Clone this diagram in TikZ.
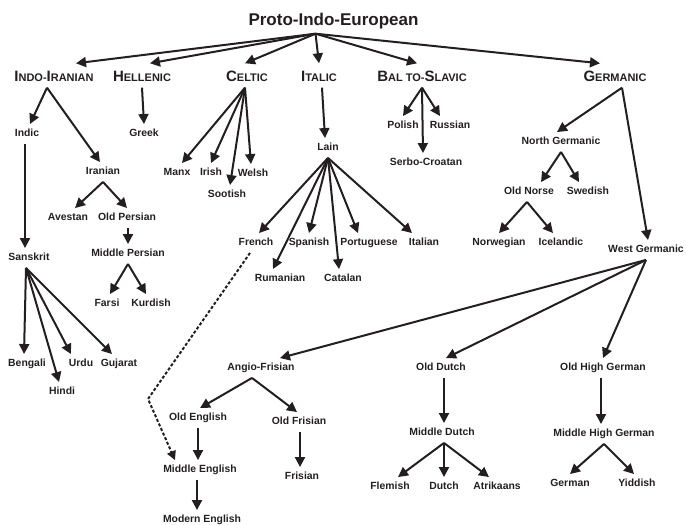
\documentclass[tikz,border=0pt]{standalone}
\usepackage{fontspec}
\setmainfont{Liberation Sans}
\usetikzlibrary{arrows.meta}
\definecolor{ink}{HTML}{231F20}
% maiuscola grande nei titoli dei rami
\newcommand\hcap[1]{{\fontsize{15}{15}\selectfont #1}}
\tikzset{
  % nome di una lingua
  lang/.style={text=ink, font=\bfseries\fontsize{10.4}{12}\selectfont, text height=7.5pt,
    text depth=2pt, inner xsep=1pt, inner ysep=5pt},
  % ramo principale (maiuscoletto)
  branch/.style={text=ink, font=\bfseries\fontsize{11}{11}\selectfont, text height=11pt,
    text depth=0pt, inner xsep=1pt, inner ysep=6.5pt},
  % radice
  rootlbl/.style={text=ink, font=\bfseries\fontsize{17}{20}\selectfont, text height=12.5pt,
    text depth=3.5pt, inner ysep=5pt},
  % frecce di discendenza
  arr/.style={draw=ink, line width=2pt, -{Triangle[length=10pt, width=10pt]}},
  loanarr/.style={arr, dash pattern=on 3pt off 2pt, -{Triangle[length=9pt, width=9pt]}},
}
\begin{document}
\begin{tikzpicture}[x=1pt, y=-1pt]
  \useasboundingbox (0,0) rectangle (686,525);
  % radice e rami
  \node[rootlbl] (pie) at (333.5,20.5) {Proto-Indo-European};
  \coordinate (top) at ([xshift=-18]pie.south);
  \node[branch] (indo) at (54,75.5) {\hcap{I}NDO-\hcap{I}RANIAN};
  \node[branch] (hell) at (142,75.5) {\hcap{H}ELLENIC};
  \node[branch] (celt) at (247,75.5) {\hcap{C}ELTIC};
  \node[branch] (ital) at (319,75.5) {\hcap{I}TALIC};
  \node[branch] (balt) at (422,75.5) {\hcap{B}AL TO-\hcap{S}LAVIC};
  \node[branch] (germ) at (615,75.5) {\hcap{G}ERMANIC};
  \foreach \c/\dx in {indo/22, hell/8, celt/-2, ital/0, balt/-5, germ/-15}
    \draw[arr] (top) -- ([xshift=\dx]\c.north);
  % indo-iranico
  \node[lang] (indic) at (27,134) {Indic};
  \node[lang] (iran) at (103,172) {Iranian};
  \node[lang] (avest) at (68,218) {Avestan};
  \node[lang] (opers) at (127,218) {Old Persian};
  \node[lang] (mpers) at (128,254) {Middle Persian};
  \node[lang] (farsi) at (107,304) {Farsi};
  \node[lang] (kurd) at (151,304) {Kurdish};
  \node[lang] (sansk) at (29,258) {Sanskrit};
  \node[lang] (beng) at (27,364) {Bengali};
  \node[lang] (hindi) at (62,392) {Hindi};
  \node[lang] (urdu) at (81,364) {Urdu};
  \node[lang] (guj) at (119,364) {Gujarat};
  \foreach \c/\dx in {indic/3, iran/-3} \draw[arr] ([xshift=-7]indo.south) -- ([xshift=\dx]\c.north);
  \draw[arr] ([xshift=-2]indic.south) -- ([xshift=-4]sansk.north);
  \foreach \c/\dx in {beng/-3, hindi/-3, urdu/-10, guj/-7} \draw[arr] ([xshift=-3]sansk.south) -- ([xshift=\dx]\c.north);
  \foreach \c/\dx in {avest/7, opers/0} \draw[arr] (iran.south) -- ([xshift=\dx]\c.north);
  \draw[arr] ([xshift=1]opers.south) -- (mpers.north);
  \foreach \c/\dx in {farsi/3, kurd/-5} \draw[arr] (mpers.south) -- ([xshift=\dx]\c.north);
  % ellenico
  \node[lang] (greek) at (144,134) {Greek};
  \draw[arr] (hell.south) -- (greek.north);
  % celtico
  \node[lang] (manx) at (177,173) {Manx};
  \node[lang] (irish) at (211,173) {Irish};
  \node[lang] (welsh) at (253,174) {Welsh};
  \node[lang] (scot) at (227,195) {Sootish};
  \foreach \c/\dx in {manx/5, irish/0, scot/3, welsh/-2} \draw[arr] ([xshift=-2]celt.south) -- ([xshift=\dx]\c.north);
  % italico
  \node[lang] (lain) at (328,148) {Lain};
  \node[lang] (french) at (256,243) {French};
  \node[lang] (span) at (309,243) {Spanish};
  \node[lang] (port) at (369,243) {Portuguese};
  \node[lang] (itan) at (424,243) {Italian};
  \node[lang] (rum) at (280,279) {Rumanian};
  \node[lang] (cat) at (343,279) {Catalan};
  \draw[arr] ([xshift=3]ital.south) -- ([xshift=-3]lain.north);
  \foreach \c/\dx in {french/3, rum/-7, span/0, cat/-4, port/-11, itan/-12} \draw[arr] (lain.south) -- ([xshift=\dx]\c.north);
  % balto-slavo
  \node[lang] (polish) at (403,126) {Polish};
  \node[lang] (russ) at (450,126) {Russian};
  \node[lang] (serbo) at (426,163) {Serbo-Croatan};
  \foreach \c/\dx in {polish/0, russ/-10, serbo/-3} \draw[arr] (balt.south) -- ([xshift=\dx]\c.north);
  % germanico
  \node[lang] (ngerm) at (561,142) {North Germanic};
  \node[lang] (onorse) at (529,192) {Old Norse};
  \node[lang] (swed) at (588,192) {Swedish};
  \node[lang] (norw) at (499,243) {Norwegian};
  \node[lang] (icel) at (561,243) {Icelandic};
  \node[lang] (wgerm) at (646,250) {West Germanic};
  \foreach \c/\dx in {ngerm/-4, wgerm/2} \draw[arr] ([xshift=7]germ.south) -- ([xshift=\dx]\c.north);
  \foreach \c/\dx in {onorse/12, swed/-9} \draw[arr] (ngerm.south) -- ([xshift=\dx]\c.north);
  \foreach \c/\dx in {norw/0, icel/-8} \draw[arr] ([xshift=-2]onorse.south) -- ([xshift=\dx]\c.north);
  % germanico occidentale
  \node[lang] (anglo) at (261,368) {Angio-Frisian};
  \node[lang] (oeng) at (198,418) {Old English};
  \node[lang] (ofris) at (299,422) {Old Frisian};
  \node[lang] (meng) at (200,470) {Middle English};
  \node[lang] (fris) at (302,477) {Frisian};
  \node[lang] (moden) at (202,520) {Modern English};
  \node[lang] (odutch) at (441,368) {Old Dutch};
  \node[lang] (mdutch) at (442,433) {Middle Dutch};
  \node[lang] (flem) at (390,487) {Flemish};
  \node[lang] (dutch) at (444,487) {Dutch};
  \node[lang] (afr) at (497,487) {Atrikaans};
  \node[lang] (ohg) at (603,368) {Old High German};
  \node[lang] (mhg) at (604,434) {Middle High German};
  \node[lang] (german) at (570,484) {German};
  \node[lang] (yidd) at (637,484) {Yiddish};
  \foreach \c/\dx in {anglo/19, odutch/5, ohg/0} \draw[arr] (wgerm.south) -- ([xshift=\dx]\c.north);
  \foreach \c/\dx in {oeng/2, ofris/-2} \draw[arr] ([xshift=-9]anglo.south) -- ([xshift=\dx]\c.north);
  \draw[arr] (oeng.south) -- ([xshift=-2]meng.north);
  \draw[arr] ([xshift=1]ofris.south) -- ([xshift=-2]fris.north);
  \draw[arr] ([xshift=-3]meng.south) -- ([xshift=-5]moden.north);
  \coordinate (bend) at (148,399);
  \draw[loanarr] ([xshift=-6]french.south) -- (bend) -- ([xshift=-25]meng.north);
  \draw[arr] ([xshift=3]odutch.south) -- ([xshift=2]mdutch.north);
  \foreach \c/\dx in {flem/8, dutch/0, afr/-8} \draw[arr] ([xshift=2]mdutch.south) -- ([xshift=\dx]\c.north);
  \draw[arr] ([xshift=-2]ohg.south) -- ([xshift=-3]mhg.north);
  \foreach \c/\dx in {german/0, yidd/-3} \draw[arr] (mhg.south) -- ([xshift=\dx]\c.north);
\end{tikzpicture}
\end{document}
